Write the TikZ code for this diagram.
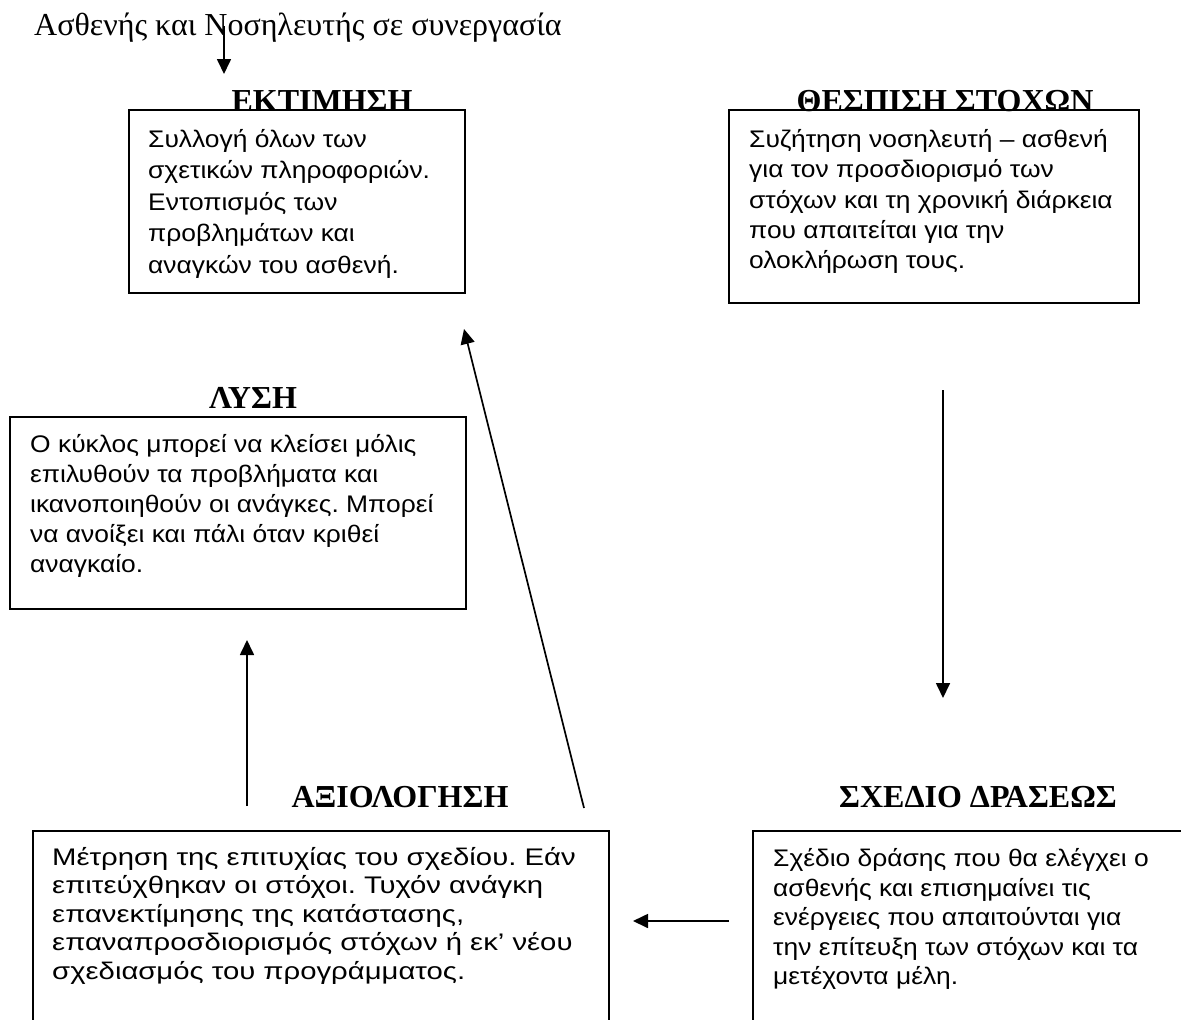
\documentclass[tikz,border=0pt]{standalone}
\usepackage{fontspec}
\usepackage{graphicx}
\setmainfont{Liberation Serif}
\newfontfamily\arialf{Liberation Sans}
\usetikzlibrary{arrows.meta}
\tikzset{
  boxshape/.style={draw, line width=1.7pt, inner sep=0pt, anchor=north west},
  bodytxt/.style={anchor=north west, inner sep=0pt},
  headlbl/.style={anchor=base, inner sep=0pt, font=\bfseries\fontsize{32}{38}\selectfont},
  arr/.style={line width=1.7pt, -{Triangle[length=15pt,width=14pt]}}
}
% #1 baselineskip, #2 horizontal stretch, #3 lines
\newcommand{\bodyblock}[3]{\arialf\fontsize{24}{#1}\selectfont\frenchspacing\scalebox{#2}[1]{\begin{tabular}{@{}l@{}}#3\end{tabular}}}
\begin{document}
\begin{tikzpicture}[x=1pt,y=-1pt]
\path[use as bounding box, clip] (0,0) rectangle (1181,1020);
\fill[white] (0,0) rectangle (1181,1020);

% title
\node[anchor=base west, inner sep=0pt, font=\fontsize{32}{38}\selectfont] (title) at (34,35) {Ασθενής και Νοσηλευτής σε συνεργασία};

% headings
\node[headlbl] (h1) at (322,111) {ΕΚΤΙΜΗΣΗ};
\node[headlbl] (h2) at (945,111) {ΘΕΣΠΙΣΗ ΣΤΟΧΩΝ};
\node[headlbl] (h3) at (253,408) {ΛΥΣΗ};
\node[headlbl] (h4) at (400,807) {ΑΞΙΟΛΟΓΗΣΗ};
\node[headlbl] (h5) at (978,807) {ΣΧΕΔΙΟ ΔΡΑΣΕΩΣ};

% boxes
\node[boxshape, minimum width=336pt, minimum height=183pt] (b1) at (128,109) {};
\node[boxshape, minimum width=410pt, minimum height=193pt] (b2) at (728,109) {};
\node[boxshape, minimum width=456pt, minimum height=192pt] (b3) at (9,416) {};
\node[boxshape, minimum width=576pt, minimum height=230pt] (b4) at (32,830) {};
\node[boxshape, minimum width=480pt, minimum height=230pt] (b5) at (752,830) {};

% texts
\node[bodytxt] (t1) at (148,125) {\bodyblock{31.5}{1.1}{Συλλογή όλων των\\σχετικών πληροφοριών.\\Εντοπισμός των\\προβλημάτων και\\αναγκών του ασθενή.}};
\node[bodytxt] (t2) at (749,126) {\bodyblock{30.3}{1.1}{Συζήτηση νοσηλευτή – ασθενή\\για τον προσδιορισμό των\\στόχων και τη χρονική διάρκεια\\που απαιτείται για την\\ολοκλήρωση τους.}};
\node[bodytxt] (t3) at (30,431) {\bodyblock{30}{1.1}{Ο κύκλος μπορεί να κλείσει μόλις\\επιλυθούν τα προβλήματα και\\ικανοποιηθούν οι ανάγκες. Μπορεί\\να ανοίξει και πάλι όταν κριθεί\\αναγκαίο.}};
\node[bodytxt] (t4) at (52,845) {\bodyblock{28.5}{1.22}{Μέτρηση της επιτυχίας του σχεδίου. Εάν\\επιτεύχθηκαν οι στόχοι. Τυχόν ανάγκη\\επανεκτίμησης της κατάστασης,\\επαναπροσδιορισμός στόχων ή εκ’ νέου\\σχεδιασμός του προγράμματος.}};
\node[bodytxt] (t5) at (773,846) {\bodyblock{29.5}{1.1}{Σχέδιο δράσης που θα ελέγχει ο\\ασθενής και επισημαίνει τις\\ενέργειες που απαιτούνται για\\την επίτευξη των στόχων και τα\\μετέχοντα μέλη.}};

% arrow ends
\coordinate (a0s) at (224,26);
\coordinate (a0e) at (224,74);
\coordinate (a1s) at (943,390);
\coordinate (a1e) at (943,698);
\coordinate (a2s) at (729,921);
\coordinate (a2e) at (633,921);
\coordinate (a3s) at (584,808);
\coordinate (a3e) at (464,329);
\coordinate (a4s) at (247,806);
\coordinate (a4e) at (247,640);

\draw[arr] (a0s) -- (a0e);
\draw[arr] (a1s) -- (a1e);
\draw[arr] (a2s) -- (a2e);
\draw[arr] (a3s) -- (a3e);
\draw[arr] (a4s) -- (a4e);
\end{tikzpicture}
\end{document}
